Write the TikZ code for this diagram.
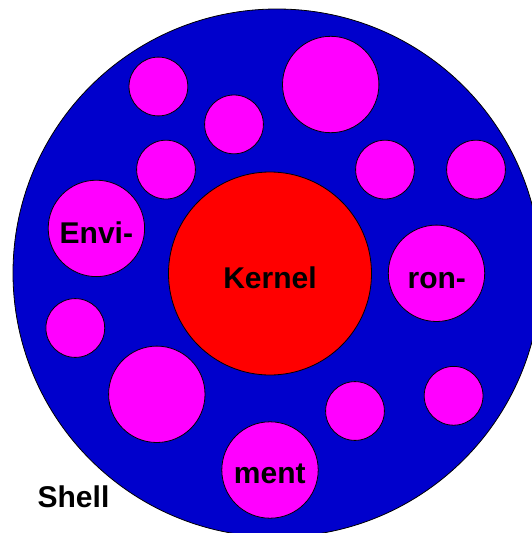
\documentclass[tikz,border=0pt]{standalone}
\usepackage{fontspec}
\setmainfont{Liberation Sans}
\definecolor{shellblue}{RGB}{0,0,204}
\definecolor{envmag}{RGB}{255,0,255}
\definecolor{kernred}{RGB}{255,0,0}
\begin{document}
\begin{tikzpicture}[x=1pt,y=-1pt,
  ball/.style={circle,draw=black,line width=0.8pt,fill=envmag,inner sep=0pt},
  smallball/.style={ball,minimum size=58.8pt},
  bigball/.style={ball,minimum size=96.4pt},
  lbl/.style={anchor=base,font=\fontsize{30}{33}\selectfont\bfseries,inner sep=0pt,text=black}]
\useasboundingbox (0,0) rectangle (532,533);
\clip (0,0) rectangle (532,533);
\node[circle,draw=black,line width=0.8pt,fill=shellblue,minimum size=528pt,inner sep=0pt] (shell) at (277,273) {};
\node[circle,draw=black,line width=0.8pt,fill=kernred,minimum size=203pt,inner sep=0pt] (kernel) at (270,273.5) {};
\node[smallball] (s1) at (158.4,86.5) {};
\node[smallball] (s2) at (234,124.4) {};
\node[bigball] (b1) at (330.7,84.5) {};
\node[smallball] (s3) at (166,169.6) {};
\node[smallball] (s4) at (385,169.6) {};
\node[smallball] (s5) at (476,169.6) {};
\node[bigball] (envi) at (96.4,228.4) {};
\node[bigball] (ron) at (436.5,273.3) {};
\node[smallball] (s6) at (75.3,328) {};
\node[bigball] (b2) at (156.8,394.3) {};
\node[smallball] (s7) at (355,411) {};
\node[smallball] (s8) at (453.6,395.8) {};
\node[bigball] (ment) at (270,470) {};
\node[lbl] (kl) at (270,288.4) {Kernel};
\node[lbl] (el) at (96.4,243.3) {Envi-};
\node[lbl] (rl) at (436.8,288.4) {ron-};
\node[lbl] (ml) at (269.8,483.5) {ment};
\node[lbl] (sl) at (73.5,507) {Shell};
\end{tikzpicture}
\end{document}
